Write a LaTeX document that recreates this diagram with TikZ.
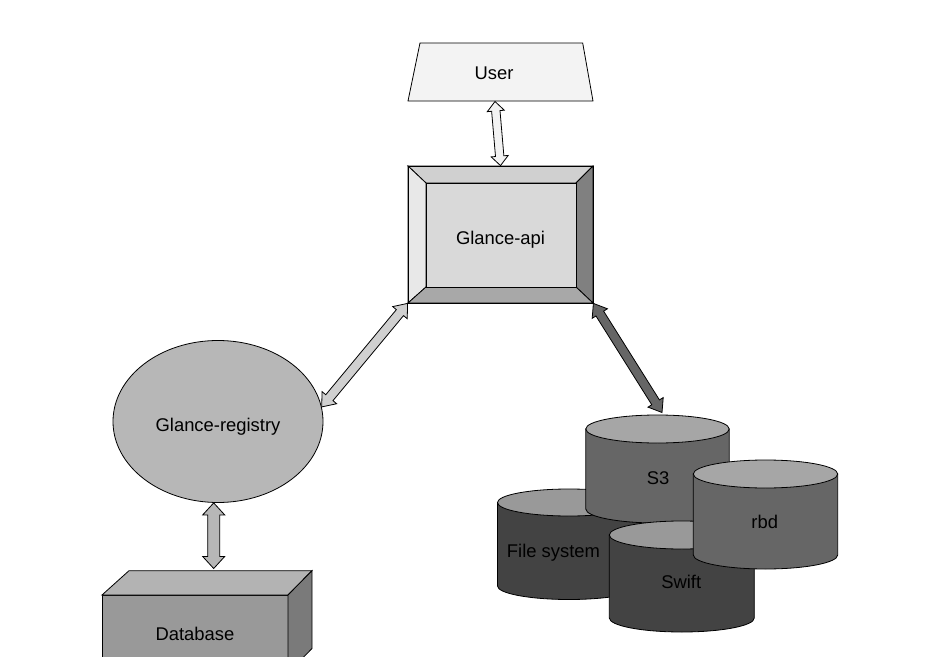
\documentclass[tikz,border=0pt]{standalone}
\usepackage{fontspec}
\setmainfont{Liberation Sans}
\usetikzlibrary{calc,shapes.geometric}
\definecolor{userfill}{HTML}{F3F3F3}
\definecolor{apitop}{HTML}{D0D0D0}
\definecolor{apileft}{HTML}{E8E8E8}
\definecolor{apiinner}{HTML}{D9D9D9}
\definecolor{apiright}{HTML}{808080}
\definecolor{apibottom}{HTML}{A8A8A8}
\definecolor{regfill}{HTML}{B7B7B7}
\definecolor{leftarrow}{HTML}{D0D0D0}
\definecolor{rightarrow}{HTML}{666666}
\definecolor{dbtopc}{HTML}{B3B3B3}
\definecolor{dbfront}{HTML}{999999}
\definecolor{dbside}{HTML}{7A7A7A}
\definecolor{cylmid}{HTML}{666666}
\definecolor{cylmidtop}{HTML}{A6A6A6}
\definecolor{cyldark}{HTML}{434343}
\definecolor{cyldarktop}{HTML}{999999}
\newcommand\blockarrow[6]{%
  \coordinate (ha) at ($(#2)!#6!(#3)$);
  \coordinate (hb) at ($(#3)!#6!(#2)$);
  \filldraw[#1] (#2) -- ($(ha)!#5!90:(#3)$) -- ($(ha)!#4!90:(#3)$)
    -- ($(hb)!#4!-90:(#2)$) -- ($(hb)!#5!-90:(#2)$) -- (#3)
    -- ($(hb)!#5!90:(#2)$) -- ($(hb)!#4!90:(#2)$)
    -- ($(ha)!#4!-90:(#3)$) -- ($(ha)!#5!-90:(#3)$) -- cycle;}
\newcommand\cyl[7]{%
  \filldraw[fill=#6] (#1-#4,#2) -- (#1-#4,#3)
    arc[start angle=180,end angle=0,x radius=#4,y radius=#5] -- (#1+#4,#2) -- cycle;
  \filldraw[fill=#7] (#1,#2) ellipse[x radius=#4,y radius=#5];}
\begin{document}
\begin{tikzpicture}[x=0.75pt,y=-0.75pt,line width=0.6pt,line join=miter,
  lbl/.style={font=\fontsize{13.8}{16}\selectfont,inner sep=0pt,
    text height=0.716em,text depth=0pt,anchor=center}]
\fill[white] (0,0) rectangle (933,671);
\useasboundingbox (0,0) rectangle (933,671);
% User
\filldraw[fill=userfill] (420,43) -- (582.7,43) -- (593,101) -- (408,101) -- cycle;
\node[lbl] (user) at (494,74.9) {User};
\coordinate (userS) at (495,101.5);
% Glance-api bevel box
\filldraw[fill=apitop] (408,166) -- (593,166) -- (576,183) -- (426,183) -- cycle;
\filldraw[fill=apileft] (408,166) -- (426,183) -- (426,287) -- (408,303) -- cycle;
\filldraw[fill=apiright] (593,166) -- (593,303) -- (576,287) -- (576,183) -- cycle;
\filldraw[fill=apibottom] (408,303) -- (593,303) -- (576,287) -- (426,287) -- cycle;
\filldraw[fill=apiinner] (426,183) rectangle (576,287);
\node[lbl,draw,text height=14.38pt,minimum width=138.75pt,minimum height=102.75pt] (api) at (500.5,234.5) {Glance-api};
% Glance-registry
\node[lbl,ellipse,draw,fill=regfill,text height=14.98pt,minimum width=157.5pt,minimum height=121.5pt] (reg) at (218,421.5) {Glance-registry};
% Database (cut at the bottom)
\begin{scope}
\clip (0,0) rectangle (933,656.5);
\filldraw[fill=dbfront] (102,595) rectangle (288,673);
\filldraw[fill=dbtopc] (102,595) -- (129,570.7) -- (312,570.7) -- (288,595) -- cycle;
\filldraw[fill=dbside] (288,595) -- (312,570.7) -- (312,648.5) -- (288,673) -- cycle;
\end{scope}
\node[lbl] (db) at (195,635.9) {Database};
\coordinate (dbtop) at (213.7,568.5);
% storage cylinders
\cyl{569}{502.5}{586}{71.5}{13.5}{cyldark}{cyldarktop}
\cyl{657.5}{429}{509}{71.7}{14}{cylmid}{cylmidtop}
\cyl{681.8}{535}{618}{72.5}{14}{cyldark}{cyldarktop}
\cyl{765.5}{474}{555}{72.2}{14}{cylmid}{cylmidtop}
\node[lbl] (fs) at (553.5,552.9) {File system};
\node[lbl] (s3) at (658,479.9) {S3};
\node[lbl] (swift) at (681.2,584.2) {Swift};
\node[lbl] (rbd) at (764.7,524.2) {rbd};
\coordinate (s3top) at (662,412.5);
\coordinate (regS) at ($(reg.south)+(-4.3,0)$);
% connectors
\blockarrow{fill=userfill}{userS}{api.north}{3.15pt}{6.4pt}{7.1pt}
\blockarrow{fill=leftarrow}{api.south west}{reg.8}{3.5pt}{7.1pt}{9pt}
\blockarrow{fill=regfill}{regS}{dbtop}{4.5pt}{8.25pt}{9pt}
\blockarrow{fill=rightarrow}{api.south east}{s3top}{3.4pt}{6.75pt}{9pt}
\end{tikzpicture}
\end{document}
